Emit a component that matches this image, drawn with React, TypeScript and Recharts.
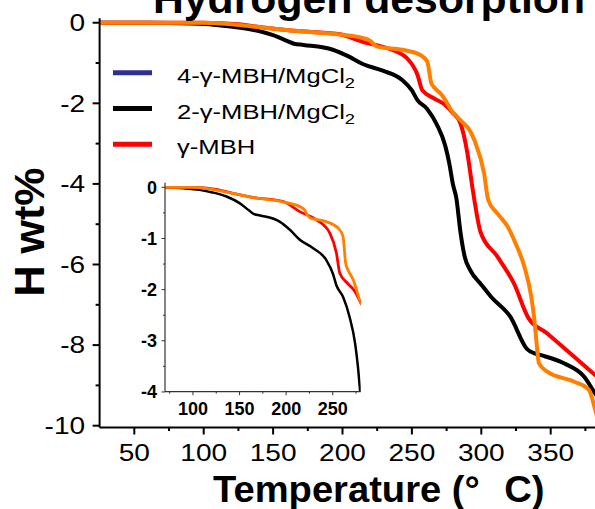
import React from 'react';
import { LineChart, Line, XAxis, YAxis } from 'recharts';

const FONT = "'Liberation Sans', Arial, Helvetica, sans-serif";
const STRETCH = 1.22;

// 2-γ-MBH/MgCl2 (black)
const blackT = [25, 60, 90, 107, 121, 136, 150, 160, 165, 172, 193, 204, 215, 229, 243, 250, 254, 261, 268, 274, 277, 279.5, 282, 285, 288, 292, 300, 307, 321, 333, 338, 343, 359.5, 374, 382, 390];
const blackH = [0, 0, -0.02, -0.05, -0.1, -0.18, -0.31, -0.45, -0.52, -0.55, -0.67, -0.83, -1.03, -1.19, -1.42, -1.68, -1.92, -2.14, -2.53, -3.05, -3.5, -4.0, -4.35, -5.2, -5.8, -6.14, -6.5, -6.8, -7.3, -8.1, -8.2, -8.25, -8.45, -8.78, -9.2, -9.6];

// γ-MBH (red)
const redT = [25, 100, 125, 143, 165, 197, 215, 233, 247, 254, 257.6, 266, 274, 279, 285, 290, 293.5, 295, 299.5, 311.5, 323.5, 334, 347.5, 364, 382, 395];
const redH = [0, 0, -0.04, -0.12, -0.2, -0.28, -0.48, -0.64, -0.9, -1.29, -1.68, -1.88, -2.04, -2.22, -2.5, -3.24, -4.07, -4.4, -5.2, -5.8, -6.47, -7.33, -7.71, -8.2, -8.74, -9.1];

// unlabelled orange curve
const orangeT = [25, 100, 143, 165, 200, 215, 220, 223, 226, 243, 256, 261, 264, 266.5, 272, 279, 283, 295, 302, 305, 312, 319, 325, 331, 336, 338, 340, 341.5, 347.5, 367, 377.5, 382, 385];
const orangeH = [0, 0, -0.12, -0.2, -0.3, -0.38, -0.45, -0.55, -0.6, -0.67, -0.8, -0.96, -1.5, -1.62, -1.81, -2.2, -2.35, -2.91, -3.74, -4.4, -4.75, -5.06, -5.5, -6.05, -6.8, -7.3, -8.0, -8.45, -8.66, -8.91, -9.11, -9.6, -10];

const mainXTicks = [50, 75, 100, 125, 150, 175, 200, 225, 250, 275, 300, 325, 350, 375];
const mainTopTicks = [25, 50, 75, 100, 125, 150, 175, 200, 225, 250, 275, 300, 325, 350, 375, 400];
const mainYTicks = [-10, -9, -8, -7, -6, -5, -4, -3, -2, -1, 0];
const insetXTicks = [75, 100, 125, 150, 175, 200, 225, 250, 275];
const insetYTicks = [-4, -3.5, -3, -2.5, -2, -1.5, -1, -0.5, 0];

const legendNames = ['4-γ-MBH/MgCl', '2-γ-MBH/MgCl', 'γ-MBH'];
const legendSubs = ['2', '2', ''];
const legendColors = ['#2e3192', '#000000', '#ff0000'];

const toPoints = (t: number[], h: number[]) => t.map((v, i) => ({ t: v, h: h[i] }));
const blackData = toPoints(blackT, blackH);
const redData = toPoints(redT, redH);
const orangeData = toPoints(orangeT, orangeH);

type TickOpts = {
  isMajor: (v: number) => boolean;
  majorLen: number;
  minorLen: number;
  dir: 1 | -1;
  fontSize: number;
  bold: boolean;
  offset: number;
  sw: number;
  stroke: string;
  labels: boolean;
  stretch: number;
};

const makeXTick = (o: TickOpts) => (p: any) => {
  const { x, y, payload } = p;
  const major = o.isMajor(payload.value);
  const len = major ? o.majorLen : o.minorLen;
  return (
    <g>
      <line x1={x} x2={x} y1={y} y2={y + o.dir * len} stroke={o.stroke} strokeWidth={o.sw} />
      {o.labels && major ? (
        <text transform={`translate(${x},${y + o.offset}) scale(${o.stretch},1)`} textAnchor="middle" fontSize={o.fontSize} fontWeight={o.bold ? 'bold' : 'normal'} fontFamily={FONT} fill="#000">
          {payload.value}
        </text>
      ) : null}
    </g>
  );
};

const makeYTick = (o: TickOpts) => (p: any) => {
  const { x, y, payload } = p;
  const major = o.isMajor(payload.value);
  const len = major ? o.majorLen : o.minorLen;
  return (
    <g>
      <line x1={x} x2={x + o.dir * len} y1={y} y2={y} stroke={o.stroke} strokeWidth={o.sw} />
      {o.labels && major ? (
        <text transform={`translate(${x - o.offset},${y}) scale(${o.stretch},1)`} dy="0.36em" textAnchor="end" fontSize={o.fontSize} fontWeight={o.bold ? 'bold' : 'normal'} fontFamily={FONT} fill="#000">
          {payload.value}
        </text>
      ) : null}
    </g>
  );
};

const mainBottomTick = makeXTick({ isMajor: v => v % 50 === 0, majorLen: 7, minorLen: 3.5, dir: 1, fontSize: 23, bold: false, offset: 33, sw: 2, stroke: '#000', labels: true, stretch: STRETCH });
const mainTopTick = makeXTick({ isMajor: v => v % 50 === 0, majorLen: 3, minorLen: 3, dir: 1, fontSize: 0, bold: false, offset: 0, sw: 1.2, stroke: '#000', labels: false, stretch: 1 });
const mainLeftTick = makeYTick({ isMajor: v => v % 2 === 0, majorLen: 7, minorLen: 4, dir: -1, fontSize: 23, bold: false, offset: 14.5, sw: 2, stroke: '#000', labels: true, stretch: STRETCH });

const insetBottomTick = makeXTick({ isMajor: v => v % 50 === 0, majorLen: 3.5, minorLen: 2, dir: 1, fontSize: 18, bold: true, offset: 23, sw: 1, stroke: '#333', labels: true, stretch: 1 });
const insetTopTick = makeXTick({ isMajor: v => v % 50 === 0, majorLen: 3, minorLen: 2, dir: 1, fontSize: 0, bold: false, offset: 0, sw: 1, stroke: '#333', labels: false, stretch: 1 });
const insetLeftTick = makeYTick({ isMajor: v => Number.isInteger(v), majorLen: 3.5, minorLen: 2, dir: -1, fontSize: 18, bold: true, offset: 8, sw: 1, stroke: '#333', labels: true, stretch: 1 });
const insetRightTick = makeYTick({ isMajor: v => Number.isInteger(v), majorLen: 3, minorLen: 2, dir: -1, fontSize: 0, bold: false, offset: 0, sw: 1, stroke: '#333', labels: false, stretch: 1 });

export default function App() {
  return (
    <div style={{ position: 'absolute', left: 0, top: 0, width: 595, height: 509, overflow: 'hidden', background: '#fff' }}>
      {/* main chart */}
      <div style={{ position: 'absolute', left: 0, top: 0 }}>
        <LineChart width={640} height={509} margin={{ top: 18.3, right: 19.9, bottom: 0, left: 0 }}>
          <XAxis xAxisId="b" type="number" dataKey="t" domain={[25, 400]} ticks={mainXTicks} interval={0} allowDataOverflow
            axisLine={{ stroke: '#000', strokeWidth: 2 }} tickLine={false} tickSize={0} tickMargin={0} height={81.5} tick={mainBottomTick} />
          <XAxis xAxisId="top" orientation="top" type="number" dataKey="t" domain={[25, 400]} ticks={mainTopTicks} interval={0} allowDataOverflow
            axisLine={{ stroke: '#000', strokeWidth: 2 }} tickLine={false} tickSize={0} tickMargin={0} height={0} tick={mainTopTick} />
          <YAxis yAxisId="l" type="number" domain={[-10.045, 0.11]} ticks={mainYTicks} interval={0} allowDataOverflow
            axisLine={{ stroke: '#000', strokeWidth: 2 }} tickLine={false} tickSize={0} tickMargin={0} width={99.6} tick={mainLeftTick} />
          <Line xAxisId="b" yAxisId="l" data={blackData} dataKey="h" type="monotone" stroke="#000" strokeWidth={4} dot={false} isAnimationActive={false} />
          <Line xAxisId="b" yAxisId="l" data={redData} dataKey="h" type="monotone" stroke="#ff0000" strokeWidth={4} dot={false} isAnimationActive={false} />
          <Line xAxisId="b" yAxisId="l" data={orangeData} dataKey="h" type="monotone" stroke="#ff8000" strokeWidth={4} dot={false} isAnimationActive={false} />
        </LineChart>
      </div>
      {/* inset chart */}
      <div style={{ position: 'absolute', left: 110, top: 170 }}>
        <LineChart width={260} height={260} margin={{ top: 12.7, right: 9.3, bottom: 0, left: 0 }}>
          <XAxis xAxisId="b" type="number" dataKey="t" domain={[70, 280]} ticks={insetXTicks} interval={0} allowDataOverflow
            axisLine={{ stroke: '#333', strokeWidth: 1.2 }} tickLine={false} tickSize={0} tickMargin={0} height={38.3} tick={insetBottomTick} />
          <XAxis xAxisId="top" orientation="top" type="number" dataKey="t" domain={[70, 280]} ticks={insetXTicks} interval={0} allowDataOverflow
            axisLine={{ stroke: '#333', strokeWidth: 1.2 }} tickLine={false} tickSize={0} tickMargin={0} height={0} tick={insetTopTick} />
          <YAxis yAxisId="l" type="number" domain={[-3.995, 0.09]} ticks={insetYTicks} interval={0} allowDataOverflow
            axisLine={{ stroke: '#333', strokeWidth: 1.2 }} tickLine={false} tickSize={0} tickMargin={0} width={55} tick={insetLeftTick} />
          <YAxis yAxisId="r" orientation="right" type="number" domain={[-3.995, 0.09]} ticks={insetYTicks} interval={0} allowDataOverflow
            axisLine={{ stroke: '#333', strokeWidth: 1.2 }} tickLine={false} tickSize={0} tickMargin={0} width={0} tick={insetRightTick} />
          <Line xAxisId="b" yAxisId="l" data={blackData} dataKey="h" type="monotone" stroke="#000" strokeWidth={2.5} dot={false} isAnimationActive={false} />
          <Line xAxisId="b" yAxisId="l" data={redData} dataKey="h" type="monotone" stroke="#ff0000" strokeWidth={2.8} dot={false} isAnimationActive={false} />
          <Line xAxisId="b" yAxisId="l" data={orangeData} dataKey="h" type="monotone" stroke="#ff8000" strokeWidth={2.8} dot={false} isAnimationActive={false} />
        </LineChart>
      </div>
      {/* titles and legend */}
      <svg width={595} height={509} style={{ position: 'absolute', left: 0, top: 0, pointerEvents: 'none' }}>
        <text x={153} y={12.7} fontSize={40} fontWeight="bold" fontFamily={FONT} textLength={432} lengthAdjust="spacingAndGlyphs" fill="#000">Hydrogen desorption</text>
        <text transform="translate(213,501.7) scale(1.06,1)" fontSize={36} fontWeight="bold" fontFamily={FONT} fill="#000">
          Temperature (°<tspan dx={23}>C)</tspan>
        </text>
        <text transform="translate(44,232) rotate(-90)" textAnchor="middle" fontSize={43} fontWeight="bold" fontFamily={FONT} fill="#000">H wt%</text>
        {legendNames.map((name, i) => {
          const y = 72.7 + i * 35.8;
          return (
            <g key={name}>
              <line x1={113} x2={152} y1={y} y2={y} stroke={legendColors[i]} strokeWidth={5} />
              <text transform={`translate(177,${y + 10}) scale(${STRETCH},1)`} fontSize={21} fontFamily={FONT} fill="#000">
                {name}
                {legendSubs[i] ? <tspan fontSize={15} dy={5}>{legendSubs[i]}</tspan> : null}
              </text>
            </g>
          );
        })}
      </svg>
    </div>
  );
}
